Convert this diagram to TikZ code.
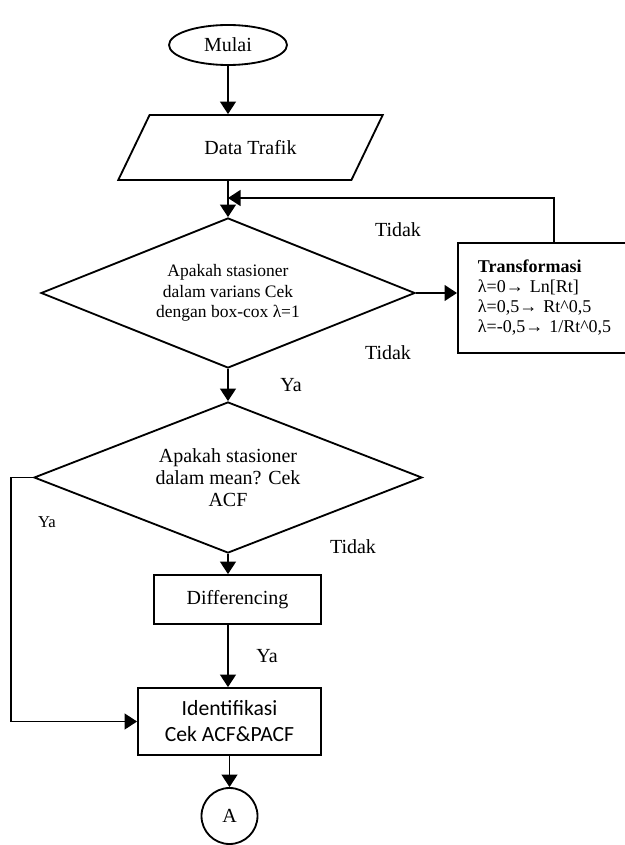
\documentclass[tikz,border=0pt]{standalone}
\usepackage{fontspec}
\setmainfont{Liberation Serif}
\newfontfamily\carlito{Carlito}
\usetikzlibrary{shapes.geometric,arrows.meta}

\begin{document}
\begin{tikzpicture}[x=0.6pt,y=-0.6pt,line width=1.1pt,
	font=\fontsize{12}{13.2}\selectfont,
	arr/.style={-{Triangle[length=7.5pt,width=9.5pt]}},
	box/.style={draw,rectangle,inner sep=0pt},
	decision/.style={draw,diamond,inner sep=0pt,align=center},
	lbl/.style={inner sep=0pt}]
	\useasboundingbox (0,0) rectangle (625,845);
	\clip (0,0) rectangle (625,845);

	\node[draw,ellipse,minimum width=70.8pt,minimum height=24pt,inner sep=0pt] (mulai) at (228,45) {Mulai};
	\node[draw,trapezium,trapezium left angle=45,trapezium right angle=135,trapezium stretches=true,minimum width=159pt,minimum height=39pt,inner sep=0pt] (data) at (250.5,147.5) {Data Trafik};
	\node[decision,aspect=2.49,minimum width=224.4pt,minimum height=90pt,font=\fontsize{10.5}{12.3}\selectfont] (cek1) at (228,293) {Apakah stasioner\\dalam varians Cek\\dengan box-cox λ=1};
	\node[box,anchor=north west,minimum height=66pt,text width=91pt,inner xsep=12pt,align=left,font=\fontsize{10.8}{12}\selectfont] (trans) at (457,242) {\textbf{Transformasi}\\λ=0→ Ln[Rt]\\λ=0,5→ Rt\textasciicircum0,5\\λ=-0,5→ 1/Rt\textasciicircum0,5};
	\node[decision,aspect=2.57,minimum width=232.8pt,minimum height=90.6pt] (cek2) at (228,477.5) {Apakah stasioner\\dalam mean? Cek\\ACF};
	\node[box,minimum width=100.2pt,minimum height=29.4pt] (diff) at (237.5,599.5) {Differencing};
	\node[box,minimum width=109.8pt,minimum height=40.2pt,align=center,font=\carlito\fontsize{13}{15.6}\selectfont] (ident) at (229.5,721.5) {Identifikasi\\Cek ACF\&PACF};
	\node[draw,circle,minimum size=33.6pt,inner sep=0pt] (a) at (229.5,816) {A};

	\node[lbl] (tidak1) at (398,230) {Tidak};
	\node[lbl] (tidak2) at (388,353) {Tidak};
	\node[lbl] (ya1) at (291,385) {Ya};
	\node[lbl,font=\fontsize{10}{12}\selectfont] (ya2) at (47,522) {Ya};
	\node[lbl] (tidak3) at (353,547) {Tidak};
	\node[lbl] (ya3) at (267,656) {Ya};

	\coordinate (join) at (228,198);
	\draw[arr] (mulai.south) -- (mulai.south |- data.north);
	\draw[arr] (mulai.south |- data.south) -- (cek1.north);
	\draw[arr] (trans.north) |- (join);
	\draw[arr] (cek1.east) -- (cek1.east -| trans.west);
	\draw[arr] (cek1.south) -- (cek2.north);
	\draw[arr] (cek2.south) -- (cek2.south |- diff.north);
	\draw[arr] (cek2.south |- diff.south) -- (cek2.south |- ident.north);
	\draw[arr] (cek2.west) -- ++(-22,0) |- (ident.west);
	\draw[arr] (ident.south) -- (a.north);
\end{tikzpicture}
\end{document}
